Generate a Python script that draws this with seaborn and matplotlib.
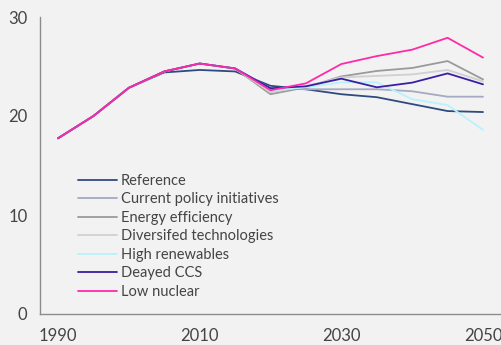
import numpy as np
import pandas as pd
import matplotlib
matplotlib.use("Agg")
import matplotlib.pyplot as plt
import seaborn as sns

# years
years = [1990, 1995, 2000, 2005, 2010, 2015, 2020, 2025, 2030, 2035, 2040, 2045, 2050]

# series values
reference = [17.75, 20.0, 22.85, 24.4, 24.65, 24.5, 23.05, 22.7, 22.2, 21.9, 21.2, 20.5, 20.4]
current_policy = [17.75, 20.0, 22.85, 24.5, 25.3, 24.8, 22.8, 22.7, 22.7, 22.7, 22.5, 21.95, 21.95]
energy_eff = [17.75, 20.0, 22.85, 24.5, 25.3, 24.8, 22.2, 22.9, 24.0, 24.55, 24.85, 25.55, 23.7]
diversified = [17.75, 20.0, 22.85, 24.5, 25.3, 24.8, 22.4, 23.0, 23.9, 24.05, 24.2, 24.65, 23.5]
high_renew = [17.75, 20.0, 22.85, 24.5, 25.3, 24.8, 22.6, 22.9, 23.4, 23.4, 21.7, 21.1, 18.6]
delayed_ccs = [17.75, 20.0, 22.85, 24.5, 25.3, 24.8, 22.8, 23.0, 23.77, 22.9, 23.37, 24.3, 23.2]
low_nuclear = [17.75, 20.0, 22.85, 24.5, 25.3, 24.8, 22.6, 23.3, 25.25, 26.05, 26.7, 27.9, 25.9]

names = ["Reference", "Current policy initiatives", "Energy efficiency",
         "Diversifed technologies", "High renewables", "Deayed CCS", "Low nuclear"]
series = [reference, current_policy, energy_eff, diversified, high_renew, delayed_ccs, low_nuclear]
colors = ["#2f4a7e", "#a3aac2", "#9a9a9a", "#d0d0d0", "#b8f2ff", "#3b1ea3", "#ff2aa6"]

df = pd.concat([pd.DataFrame({"year": years, "value": s, "scenario": n})
                for n, s in zip(names, series)], ignore_index=True)

sns.set_style("white")
plt.rcParams['font.family'] = ['Lato', 'DejaVu Sans']

fig = plt.figure(figsize=(5.02, 3.45), dpi=100, facecolor="#f2f2f2")
ax = fig.add_axes([40 / 502, 31 / 345, 460 / 502, 297 / 345])
ax.set_facecolor("#f2f2f2")

sns.lineplot(data=df, x="year", y="value", hue="scenario", hue_order=names,
             palette=colors, linewidth=1.3, ax=ax)

ax.set_xlim(1987.45, 2052.4)
ax.set_ylim(0, 30)
ax.set_xticks([1990, 2010, 2030, 2050])
ax.set_yticks([0, 10, 20, 30])
ax.set_xlabel("")
ax.set_ylabel("")
for s in ["top", "right"]:
    ax.spines[s].set_visible(False)
for s in ["left", "bottom"]:
    ax.spines[s].set_color("#8c8c8c")
    ax.spines[s].set_linewidth(1)
ax.tick_params(axis="y", length=5, color="#8c8c8c", labelsize=12, labelcolor="#444444", pad=4)
ax.tick_params(axis="x", length=0, labelsize=12, labelcolor="#444444", pad=10)

leg = ax.legend(loc="lower left", bbox_to_anchor=(0.06, 0.017), frameon=False,
                fontsize=10.5, labelspacing=0.31, handlelength=2.7, handletextpad=0.27,
                borderaxespad=0.3)
for t in leg.get_texts():
    t.set_color("#444444")

fig.savefig("out.png", dpi=100, facecolor="#f2f2f2")
